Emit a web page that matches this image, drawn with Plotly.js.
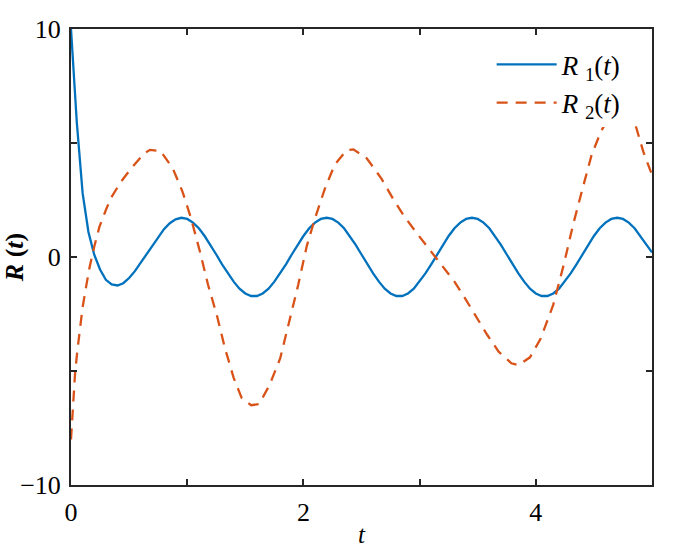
<!DOCTYPE html>
<html>
<head>
<meta charset="utf-8">
<script src="https://cdn.plot.ly/plotly-3.0.1.min.js"></script>
<style>html,body{margin:0;padding:0;background:#fff;}#chart{width:700px;height:548px;}</style>
</head>
<body>
<div id="chart"></div>
<script>
// R1(t) read on a 0.05 grid
const tBlue = [0,0.05,0.1,0.15,0.2,0.25,0.3,0.35,0.4,0.45,0.5,0.55,0.6,0.65,0.7,0.75,0.8,0.85,0.9,0.95,
  1,1.05,1.1,1.15,1.2,1.25,1.3,1.35,1.4,1.45,1.5,1.55,1.6,1.65,1.7,1.75,1.8,1.85,1.9,1.95,
  2,2.05,2.1,2.15,2.2,2.25,2.3,2.35,2.4,2.45,2.5,2.55,2.6,2.65,2.7,2.75,2.8,2.85,2.9,2.95,
  3,3.05,3.1,3.15,3.2,3.25,3.3,3.35,3.4,3.45,3.5,3.55,3.6,3.65,3.7,3.75,3.8,3.85,3.9,3.95,
  4,4.05,4.1,4.15,4.2,4.25,4.3,4.35,4.4,4.45,4.5,4.55,4.6,4.65,4.7,4.75,4.8,4.85,4.9,4.95,5];
const R1 = [10,5.9,2.8,1.1,0.1,-0.55,-1.0,-1.2,-1.25,-1.15,-0.92,-0.62,-0.25,0.12,0.5,0.9,1.22,1.48,1.65,1.72,
  1.67,1.51,1.26,0.92,0.53,0.11,-0.32,-0.72,-1.08,-1.39,-1.6,-1.71,-1.71,-1.6,-1.39,-1.08,-0.72,-0.32,0.11,0.53,
  0.92,1.26,1.51,1.67,1.72,1.67,1.51,1.26,0.92,0.53,0.11,-0.32,-0.72,-1.08,-1.39,-1.6,-1.71,-1.71,-1.6,-1.39,
  -1.08,-0.72,-0.32,0.11,0.53,0.92,1.26,1.51,1.67,1.72,1.67,1.51,1.26,0.92,0.53,0.11,-0.32,-0.72,-1.08,-1.39,
  -1.6,-1.71,-1.71,-1.6,-1.39,-1.08,-0.72,-0.32,0.11,0.53,0.92,1.26,1.51,1.67,1.72,1.67,1.51,1.26,0.92,0.53,0.2];

// R2(t) read at its visible vertices
const tOrange = [0,0.015,0.035,0.055,0.075,0.1,0.13,0.16,0.2,0.245,0.3,0.345,0.43,0.52,0.63,0.68,0.77,0.875,0.96,1.03,
  1.11,1.18,1.255,1.325,1.4,1.47,1.55,1.62,1.71,1.8,1.87,1.955,2.03,2.1,2.185,2.27,2.37,2.43,2.545,2.67,
  2.77,2.86,2.96,3.075,3.19,3.3,3.39,3.48,3.58,3.68,3.79,3.85,3.95,4.04,4.15,4.24,4.32,4.395,4.48,4.56,
  4.65,4.72,4.8,4.86,4.925,5];
const R2 = [-8.0,-6.7,-5.1,-4.1,-3.3,-2.2,-1.3,-0.45,0.45,1.33,2.06,2.6,3.3,3.9,4.55,4.7,4.65,3.9,2.86,1.75,
  0.23,-1.23,-2.55,-4.0,-5.3,-6.2,-6.5,-6.45,-5.6,-4.45,-3.0,-1.23,0.5,1.7,3.0,4.05,4.68,4.72,4.33,3.45,
  2.57,1.84,1.15,0.38,-0.35,-1.08,-1.8,-2.55,-3.4,-4.15,-4.66,-4.74,-4.4,-3.6,-2.1,-0.35,1.4,2.86,4.47,5.5,
  6.3,6.6,6.4,5.75,4.62,3.6];

const xTickVals = [0,2,4];
const xTickText = ['0','2','4'];
const yTickVals = [-10,0,10];
const yTickText = ['\u221210','0','10'];

const serif = 'Liberation Serif, Times New Roman, serif';
const axisColor = '#262626';

const traces = [
  {x: tBlue, y: R1, mode: 'lines', name: '<i>R</i> <sub>1</sub>(<i>t</i>)', legendgroup: 'a',
   line: {color: '#0072BD', width: 2.3}},
  {x: tOrange, y: R2, mode: 'lines', name: '<i>R</i> <sub>2</sub>(<i>t</i>)', legendgroup: 'b',
   line: {color: '#D95319', width: 2.3, dash: '11px,8px'}}
];

const axisCommon = {
  showgrid: false, zeroline: false, showline: true, mirror: 'allticks',
  linecolor: axisColor, linewidth: 2, ticks: 'inside', ticklen: 6, tickwidth: 1.8,
  tickcolor: axisColor, tickmode: 'array',
  minor: {ticks: 'inside', ticklen: 6, tickwidth: 1.8, tickcolor: axisColor, showgrid: false},
  tickfont: {family: serif, size: 26, color: '#000'}
};

const layout = {
  width: 700, height: 548,
  margin: {l: 71, r: 48, t: 29, b: 63},
  paper_bgcolor: '#fff', plot_bgcolor: '#fff',
  showlegend: true,
  legend: {x: 0.724, y: 0.975, xanchor: 'left', yanchor: 'top', bgcolor: 'rgba(255,255,255,1)',
    borderwidth: 0, font: {family: serif, size: 27, color: '#000'}, itemwidth: 60,
    traceorder: 'grouped', tracegroupgap: 0},
  // white backing of the legend box, which hides the curves beneath it as in the reference
  shapes: [{type: 'rect', layer: 'above', xref: 'x domain', yref: 'y domain',
    x0: 0.725, x1: 0.995, y0: 0.787, y1: 0.975, fillcolor: '#fff', line: {width: 0}}],
  xaxis: Object.assign({}, axisCommon, {range: [0, 5], tickvals: xTickVals, ticktext: xTickText,
    minor: Object.assign({}, axisCommon.minor, {tickvals: [1, 3, 5]}),
    ticklabelstandoff: 3,
    title: {text: '<i>t</i>', font: {family: serif, size: 25, color: '#000'}, standoff: 0}}),
  yaxis: Object.assign({}, axisCommon, {range: [-10, 10], tickvals: yTickVals, ticktext: yTickText,
    minor: Object.assign({}, axisCommon.minor, {tickvals: [-5, 5]}),
    ticklabelstandoff: 3,
    title: {text: '<b><i>R</i> (<i>t</i>)</b>', font: {family: serif, size: 26, color: '#000'}, standoff: 6}})
};

Plotly.newPlot('chart', traces, layout, {displayModeBar: false, staticPlot: true});
</script>
</body>
</html>
